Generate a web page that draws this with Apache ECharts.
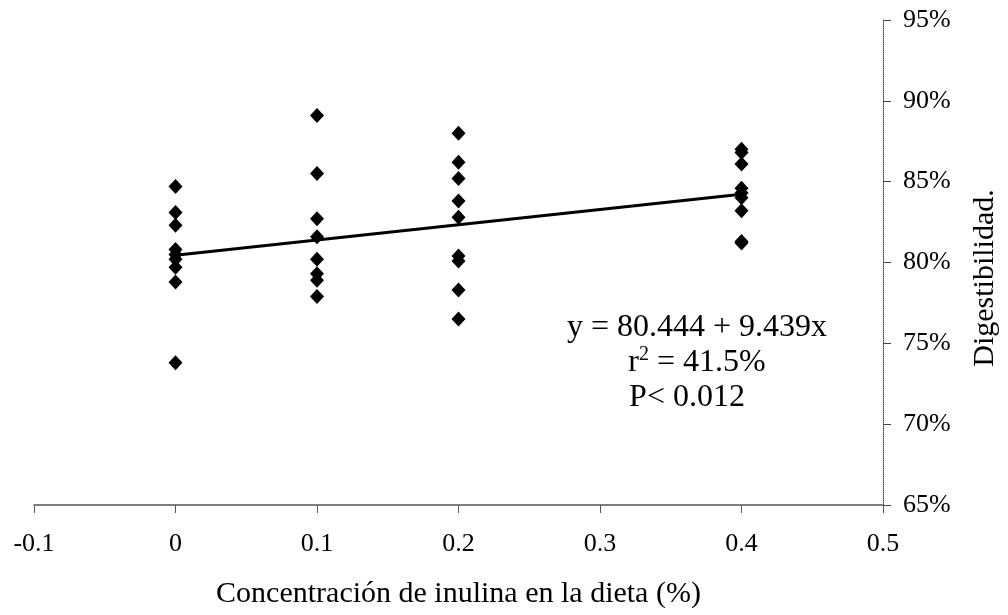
<!DOCTYPE html>
<html>
<head>
<meta charset="utf-8">
<style>
  html, body { margin: 0; padding: 0; background: #fff; }
  #chart { width: 1008px; height: 615px; }
</style>
<script src="https://cdn.jsdelivr.net/npm/echarts@6/dist/echarts.min.js"></script>
</head>
<body>
<div id="chart"></div>
<script>
// inulin levels in the diet (%)
const doses = [0, 0.1, 0.2, 0.4];
// digestibility (%)
const dig0 = [84.7, 83.1, 82.3, 80.8, 80.5, 80.2, 79.7, 78.8, 73.8];
const dig01 = [89.1, 85.5, 82.7, 81.6, 80.2, 79.3, 78.9, 77.9];
const dig02 = [88.0, 86.2, 85.2, 83.8, 82.8, 80.4, 80.1, 78.3, 76.5];
const dig04 = [87.0, 86.8, 86.1, 84.6, 84.3, 84.0, 83.2, 81.3, 81.2];
// fitted line y = a + b x
const intercept = 80.444;
const slope = 9.439;
const fitX = [0, 0.4];

const font = "'Liberation Serif', 'Times New Roman', serif";

const points = [];
[dig0, dig01, dig02, dig04].forEach((vals, i) => {
  vals.forEach((v) => points.push([doses[i], v]));
});
const fitLine = fitX.map((x) => [x, intercept + slope * x]);

const chart = echarts.init(document.getElementById("chart"));
chart.setOption({
  animation: false,
  grid: { left: 34, right: 125, top: 20, bottom: 110 },
  xAxis: {
    type: "value",
    min: -0.1,
    max: 0.5,
    interval: 0.1,
    name: "Concentración de inulina en la dieta (%)",
    nameLocation: "middle",
    nameGap: 74,
    nameTextStyle: { fontFamily: font, fontSize: 30, color: "#000" },
    axisLine: { onZero: false, lineStyle: { color: "#555", width: 1.5 } },
    axisTick: { show: true, length: 8, inside: false, lineStyle: { color: "#555" } },
    axisLabel: {
      fontFamily: font,
      fontSize: 26,
      color: "#000",
      margin: 26,
      formatter: (v) => String(Math.round(v * 10) / 10),
    },
    splitLine: { show: false },
  },
  yAxis: {
    type: "value",
    position: "right",
    min: 65,
    max: 95,
    interval: 5,
    axisLine: { show: true, onZero: false, lineStyle: { color: "#444", type: "dotted", width: 1 } },
    axisTick: { show: true, length: 8, lineStyle: { color: "#444" } },
    axisLabel: {
      fontFamily: font,
      fontSize: 26,
      color: "#000",
      margin: 20,
      formatter: "{value}%",
    },
    splitLine: { show: false },
  },
  series: [
    {
      type: "line",
      data: fitLine,
      symbol: "none",
      lineStyle: { color: "#000", width: 3 },
      z: 3,
    },
    {
      type: "scatter",
      data: points,
      symbol: "diamond",
      symbolSize: [14, 15],
      itemStyle: { color: "#000", opacity: 1 },
      z: 4,
    },
  ],
  graphic: [
    {
      type: "text",
      x: 985,
      y: 278,
      rotation: Math.PI / 2,
      style: {
        text: "Digestibilidad.",
        fontFamily: font,
        fontSize: 30,
        fill: "#000",
        align: "center",
        verticalAlign: "middle",
      },
    },
    {
      type: "text",
      x: 697,
      y: 328,
      style: {
        text: "y = 80.444 + 9.439x",
        fontFamily: font,
        fontSize: 32,
        fill: "#000",
        align: "center",
        verticalAlign: "middle",
      },
    },
    {
      type: "text",
      x: 697,
      y: 363,
      style: {
        text: "{t|r}{s|2}{t| = 41.5%}",
        align: "center",
        verticalAlign: "middle",
        rich: {
          t: { fontFamily: font, fontSize: 32, fill: "#000" },
          s: { fontFamily: font, fontSize: 20, fill: "#000", padding: [0, 0, 16, 0] },
        },
      },
    },
    {
      type: "text",
      x: 687,
      y: 398,
      style: {
        text: "P< 0.012",
        fontFamily: font,
        fontSize: 32,
        fill: "#000",
        align: "center",
        verticalAlign: "middle",
      },
    },
  ],
});
</script>
</body>
</html>
